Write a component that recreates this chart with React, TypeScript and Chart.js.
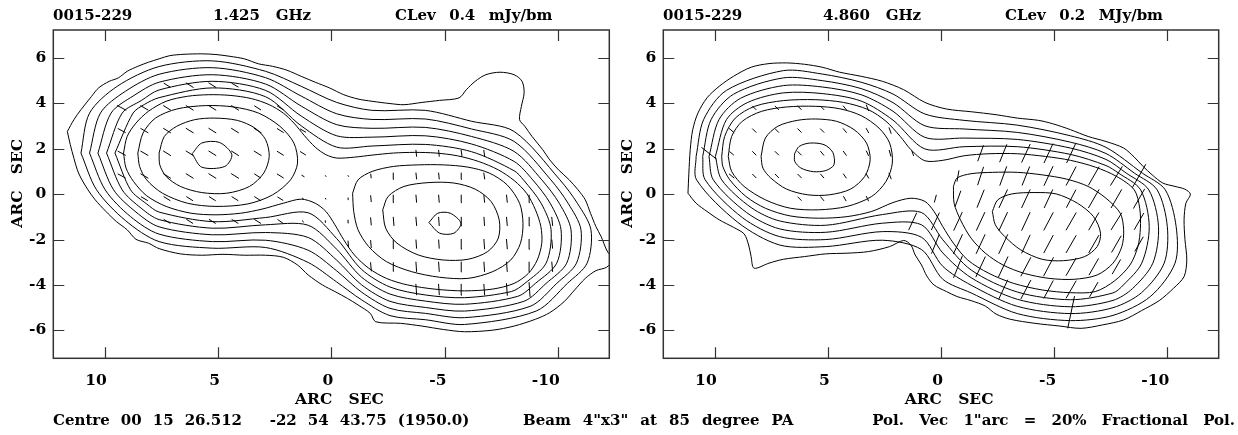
import React, { useEffect, useRef } from "react";
import { Chart, registerables } from "chart.js";

Chart.register(...registerables);

type Pt = [number, number];
// x (arcsec), y (arcsec), fractional polarisation (%), position angle (deg)
type Vec = [number, number, number, number];

const X_TICKS = [10, 5, 0, -5, -10];
const Y_TICKS = [6, 4, 2, 0, -2, -4, -6];
const X_HALF = 12.27;
const Y_HALF = 7.23;
const PCT_PER_ARCSEC = 20;

// ---------------- 1.425 GHz contours ----------------
const L_C1: Pt[] = [[11.65,2.76],[11.36,3.28],[11.05,3.72],[10.58,4.31],[10.27,4.68],[9.80,4.97],[9.40,5.12],[9.01,5.41],[8.54,5.63],[8.07,5.81],[7.60,5.96],[7.13,6.10],[6.50,6.16],[5.72,6.18],[5.09,6.15],[4.47,6.07],[3.84,5.96],[3.21,5.74],[2.59,5.63],[1.96,5.46],[1.33,5.19],[0.71,4.93],[0.08,4.68],[-0.55,4.38],[-1.18,4.19],[-1.80,4.09],[-2.59,3.99],[-3.21,3.94],[-4.00,4.04],[-4.78,4.13],[-5.64,4.24],[-5.96,4.60],[-6.35,4.97],[-6.82,5.26],[-7.45,5.37],[-8.07,5.26],[-8.42,4.97],[-8.51,4.46],[-8.39,3.87],[-8.31,3.28],[-8.54,2.99],[-8.86,2.54],[-9.33,1.96],[-9.64,1.51],[-10.03,1.07],[-10.50,0.63],[-10.89,0.19],[-11.21,-0.25],[-11.44,-0.84],[-11.68,-1.43],[-11.91,-1.87],[-12.15,-2.46],[-12.40,-2.90],[-12.15,-3.22],[-11.68,-3.37],[-11.21,-3.71],[-10.74,-4.22],[-10.27,-4.74],[-9.64,-5.22],[-9.01,-5.51],[-8.07,-5.81],[-7.13,-5.99],[-5.88,-6.06],[-4.94,-5.96],[-4.00,-5.81],[-3.06,-5.69],[-1.96,-5.62],[-1.72,-5.25],[-1.18,-4.88],[-0.71,-4.59],[-0.16,-4.29],[0.39,-4.00],[1.02,-3.56],[1.49,-3.12],[2.12,-2.78],[2.90,-2.69],[3.84,-2.69],[4.78,-2.65],[5.72,-2.69],[6.66,-2.63],[7.60,-2.40],[8.07,-2.16],[8.62,-1.99],[9.01,-1.57],[9.48,-1.21],[9.95,-0.76],[10.42,-0.25],[10.74,0.19],[11.05,0.71],[11.21,1.07],[11.36,1.58],[11.52,2.18],[11.65,2.76]];
const L_C2: Pt[] = [[11.05,1.81],[10.67,3.57],[9.45,4.75],[7.60,5.62],[5.25,5.87],[2.90,5.41],[1.33,4.75],[-0.24,4.04],[-1.80,3.69],[-4.15,3.69],[-6.19,3.21],[-8.07,2.76],[-10.09,0.63],[-10.86,-0.40],[-11.46,-1.57],[-11.29,-3.04],[-10.42,-3.93],[-9.04,-5.15],[-5.88,-5.74],[-4.15,-5.53],[-2.59,-5.35],[-1.33,-4.65],[-0.24,-3.87],[1.02,-3.01],[2.90,-2.35],[5.25,-2.38],[7.60,-2.09],[9.09,-1.16],[10.36,0.19],[11.05,1.81]];
const L_C3: Pt[] = [[10.67,1.81],[10.19,3.57],[9.09,4.53],[7.60,5.28],[5.25,5.57],[2.90,5.13],[1.33,4.32],[-0.24,3.54],[-1.80,3.29],[-4.15,3.31],[-6.19,2.87],[-8.07,2.32],[-9.69,0.63],[-10.45,-0.40],[-11.02,-1.57],[-10.82,-3.04],[-9.95,-3.93],[-8.78,-4.94],[-5.88,-5.44],[-4.15,-5.25],[-2.59,-5.03],[-1.33,-4.31],[-0.24,-3.38],[1.02,-2.47],[2.90,-2.03],[5.25,-2.09],[7.60,-1.76],[8.86,-0.99],[9.98,0.19],[10.67,1.81]];
const L_C4: Pt[] = [[10.30,1.81],[9.72,3.57],[8.75,4.32],[7.60,4.93],[5.25,5.26],[2.90,4.85],[1.33,3.88],[-0.24,3.06],[-1.80,2.90],[-4.15,2.94],[-6.19,2.54],[-8.07,1.88],[-9.29,0.63],[-10.06,-0.40],[-10.58,-1.57],[-10.39,-3.04],[-9.48,-3.93],[-8.50,-4.72],[-5.88,-5.15],[-4.15,-4.99],[-2.59,-4.72],[-1.33,-3.99],[-0.24,-2.91],[1.02,-1.91],[2.90,-1.69],[5.25,-1.79],[7.60,-1.44],[8.62,-0.79],[9.61,0.19],[10.30,1.81]];
const L_C5: Pt[] = [[9.92,1.81],[9.23,3.57],[8.39,4.12],[7.60,4.59],[5.25,4.97],[2.90,4.57],[1.33,3.44],[-0.24,2.57],[-1.80,2.51],[-4.15,2.57],[-6.19,2.21],[-8.07,1.44],[-8.89,0.63],[-9.66,-0.40],[-10.14,-1.57],[-9.95,-3.04],[-9.01,-3.93],[-8.23,-4.50],[-5.88,-4.85],[-4.15,-4.71],[-2.59,-4.40],[-1.33,-3.65],[-0.24,-2.43],[1.02,-1.37],[2.90,-1.35],[5.25,-1.50],[7.60,-1.12],[8.39,-0.62],[9.23,0.19],[9.92,1.81]];
const L_C6: Pt[] = [[9.55,1.81],[8.75,3.57],[8.25,3.95],[7.60,4.25],[5.25,4.68],[2.90,4.29],[1.33,3.01],[-0.24,2.07],[-1.80,2.12],[-4.15,2.19],[-6.19,1.87],[-8.07,1.03],[-8.48,0.63],[-9.26,-0.40],[-9.70,-1.57],[-9.48,-3.04],[-8.54,-3.93],[-7.95,-4.29],[-5.88,-4.56],[-4.15,-4.44],[-2.59,-4.09],[-1.33,-3.31],[-0.24,-1.96],[1.02,-0.82],[2.90,-1.03],[5.25,-1.21],[7.60,-0.79],[8.15,-0.43],[8.86,0.19],[9.55,1.81]];
const L_C7: Pt[] = [[9.17,1.81],[9.01,2.54],[8.62,3.13],[8.07,3.65],[7.29,4.09],[6.35,4.31],[5.41,4.38],[4.47,4.35],[3.53,4.21],[2.74,3.94],[2.12,3.57],[1.65,3.13],[1.18,2.57],[0.71,2.07],[0.24,1.74],[-0.24,1.59],[-1.02,1.63],[-1.80,1.72],[-2.74,1.81],[-3.68,1.84],[-4.62,1.81],[-5.56,1.69],[-6.50,1.44],[-7.37,1.07],[-8.07,0.60],[-8.62,0.04],[-9.01,-0.69],[-9.25,-1.43],[-9.29,-2.16],[-9.09,-2.90],[-8.70,-3.49],[-8.07,-3.93],[-7.13,-4.18],[-5.88,-4.26],[-4.62,-4.19],[-3.37,-4.00],[-2.43,-3.71],[-1.65,-3.26],[-1.02,-2.68],[-0.55,-2.01],[-0.16,-1.35],[0.24,-0.76],[0.71,-0.40],[1.33,-0.22],[2.12,-0.40],[3.06,-0.66],[4.00,-0.84],[5.09,-0.91],[6.19,-0.84],[7.29,-0.54],[8.15,-0.07],[8.73,0.56],[9.06,1.15],[9.17,1.81]];
const L_EAST_B: Pt[] = [[8.54,1.81],[8.31,2.69],[7.76,3.35],[6.82,3.75],[5.56,3.90],[4.31,3.84],[3.21,3.57],[2.27,2.99],[1.65,2.25],[1.49,1.37],[1.80,0.63],[2.59,-0.03],[3.68,-0.43],[5.09,-0.54],[6.35,-0.40],[7.45,0.04],[8.15,0.63],[8.46,1.22],[8.54,1.81]];
const L_EAST_A: Pt[] = [[7.60,1.81],[7.37,2.54],[6.82,2.99],[6.03,3.28],[5.17,3.35],[4.15,3.25],[3.37,2.91],[2.90,2.40],[2.74,1.66],[2.98,0.93],[3.61,0.34],[4.62,0.04],[5.72,0.07],[6.66,0.34],[7.29,0.78],[7.57,1.29],[7.60,1.81]];
const L_EAST_PEAK: Pt[] = [[6.14,1.78],[5.72,2.25],[4.94,2.28],[4.39,1.74],[4.70,1.22],[5.72,1.19],[6.14,1.78]];
const L_WEST_B: Pt[] = [[-0.94,0.04],[-1.18,0.63],[-1.80,1.00],[-2.74,1.22],[-3.84,1.29],[-4.94,1.29],[-6.03,1.19],[-6.97,0.93],[-7.76,0.41],[-8.31,-0.40],[-8.46,-1.28],[-8.35,-2.16],[-7.92,-2.90],[-7.13,-3.41],[-6.03,-3.71],[-4.78,-3.66],[-3.53,-3.41],[-2.43,-2.97],[-1.65,-2.31],[-1.18,-1.57],[-0.99,-0.76],[-0.94,0.04]];
const L_WEST_A: Pt[] = [[-2.27,-0.69],[-2.51,-0.10],[-3.21,0.34],[-4.31,0.51],[-5.41,0.49],[-6.35,0.22],[-7.05,-0.32],[-7.41,-1.13],[-7.37,-1.94],[-6.90,-2.53],[-6.03,-2.87],[-4.94,-2.90],[-3.84,-2.68],[-2.90,-2.16],[-2.40,-1.50],[-2.27,-0.69]];
const L_WEST_PEAK: Pt[] = [[-4.31,-1.25],[-4.70,-0.84],[-5.25,-0.84],[-5.72,-1.28],[-5.41,-1.72],[-4.78,-1.72],[-4.31,-1.25]];

const LEFT_VECS: Vec[] = [
  [7.25,4.8,7,58],[6.25,4.8,8,58],[5.25,4.8,8,58],[4.25,4.8,7,60],
  [9.25,3.8,9,62],[8.25,3.8,8,60],[7.25,3.8,8,58],[6.25,3.8,8,58],[5.25,3.8,8,58],[4.25,3.8,8,58],[3.25,3.8,7,58],[2.25,3.8,7,58],
  [9.25,2.8,8,62],[8.25,2.8,8,60],[7.25,2.8,8,58],[6.25,2.8,8,58],[5.25,2.8,8,58],[4.25,2.8,8,58],[3.25,2.8,8,58],[2.25,2.8,7,58],[1.25,2.8,6,60],
  [9.25,1.8,8,62],[8.25,1.8,8,60],[7.25,1.8,8,58],[6.25,1.8,8,58],[5.25,1.8,8,58],[4.25,1.8,8,58],[3.25,1.8,8,58],[2.25,1.8,7,58],[1.25,1.8,6,58],
  [-3.75,1.8,6,6],[-4.75,1.8,6,6],[-5.75,1.8,6,8],[-6.75,1.8,6,8],
  [9.25,0.8,8,62],[8.25,0.8,8,60],[7.25,0.8,8,58],[6.25,0.8,8,58],[5.25,0.8,8,58],[4.25,0.8,8,58],[3.25,0.8,7,58],[2.25,0.8,7,58],
  [1.25,0.8,3,60],[0.25,0.8,1.5,60],[-0.75,0.8,1.5,30],
  [-1.75,0.8,4,6],[-2.75,0.8,6,6],[-3.75,0.8,6,6],[-4.75,0.8,6,6],[-5.75,0.8,6,6],[-6.75,0.8,6,8],
  [8.25,-0.2,7,60],[7.25,-0.2,7,58],[6.25,-0.2,7,58],[5.25,-0.2,7,58],[4.25,-0.2,7,58],[3.25,-0.2,7,58],[2.25,-0.2,6,58],
  [1.25,-0.2,2,50],[0.25,-0.2,1.5,30],[-0.75,-0.2,2,10],
  [-1.75,-0.2,6,5],[-2.75,-0.2,7,5],[-3.75,-0.2,7,5],[-4.75,-0.2,7,5],[-5.75,-0.2,7,5],[-6.75,-0.2,7,6],[-7.75,-0.2,7,6],[-8.75,-0.2,7,6],
  [7.25,-1.2,7,58],[6.25,-1.2,7,58],[5.25,-1.2,7,58],[4.25,-1.2,7,58],[3.25,-1.2,7,58],[2.25,-1.2,6,55],
  [1.25,-1.2,2,30],[0.25,-1.2,2,15],[-0.75,-1.2,3,8],
  [-1.75,-1.2,7,5],[-2.75,-1.2,8,5],[-3.75,-1.2,8,5],[-4.75,-1.2,8,4],[-5.75,-1.2,8,4],[-6.75,-1.2,8,4],[-7.75,-1.2,8,5],[-8.75,-1.2,8,5],[-9.75,-1.2,8,6],
  [-0.75,-2.2,6,5],[-1.75,-2.2,7,5],[-2.75,-2.2,8,4],[-3.75,-2.2,8,4],[-4.75,-2.2,8,4],[-5.75,-2.2,9,4],[-6.75,-2.2,9,4],[-7.75,-2.2,9,5],[-8.75,-2.2,9,5],[-9.75,-2.2,8,5],
  [-1.75,-3.2,8,5],[-2.75,-3.2,8,4],[-3.75,-3.2,9,4],[-4.75,-3.2,9,4],[-5.75,-3.2,9,4],[-6.75,-3.2,9,4],[-7.75,-3.2,9,4],[-8.75,-3.2,9,5],[-9.75,-3.2,9,5],
  [-3.75,-4.2,10,4],[-4.75,-4.2,10,4],[-5.75,-4.2,10,4],[-6.75,-4.2,10,4],[-7.75,-4.2,11,4],[-8.75,-4.2,13,4],
];

// ---------------- 4.860 GHz contours ----------------
const R_C1: Pt[] = [[11.18,0.04],[11.14,0.93],[11.08,1.96],[10.97,2.84],[10.74,3.57],[10.34,4.24],[9.80,4.75],[9.17,5.19],[8.39,5.59],[7.60,5.75],[6.82,5.78],[6.03,5.72],[5.25,5.59],[4.47,5.37],[3.53,5.19],[2.59,4.97],[1.65,4.60],[0.71,4.04],[-0.24,3.75],[-1.33,3.63],[-2.43,3.50],[-3.37,3.35],[-4.31,3.25],[-4.94,3.10],[-5.72,2.84],[-6.50,2.54],[-7.29,2.32],[-8.07,2.03],[-8.54,1.63],[-8.93,1.22],[-9.33,0.85],[-9.80,0.49],[-10.34,0.34],[-10.77,0.22],[-11.02,0.00],[-10.82,-0.40],[-10.74,-1.13],[-10.78,-2.01],[-10.86,-2.90],[-10.74,-3.63],[-10.27,-4.15],[-9.64,-4.69],[-8.86,-5.13],[-8.07,-5.54],[-7.13,-5.76],[-6.19,-5.91],[-5.25,-5.81],[-4.15,-5.69],[-3.06,-5.51],[-2.43,-5.28],[-1.96,-4.93],[-1.33,-4.69],[-0.71,-4.51],[-0.24,-4.29],[0.31,-4.00],[0.63,-3.60],[0.86,-3.12],[1.14,-2.68],[1.33,-2.24],[1.65,-2.04],[2.27,-2.31],[3.21,-2.53],[4.15,-2.60],[5.09,-2.63],[6.03,-2.75],[6.97,-2.87],[7.60,-3.04],[8.26,-3.26],[8.39,-2.75],[8.50,-2.24],[8.70,-1.75],[9.17,-1.46],[9.80,-1.13],[10.34,-0.76],[10.82,-0.40],[11.18,0.04]];
const R_C2: Pt[] = [[10.82,1.66],[10.49,3.28],[9.48,4.57],[6.97,5.44],[5.25,5.29],[3.53,4.93],[2.12,4.41],[0.71,3.53],[-1.02,3.25],[-3.37,3.04],[-5.72,2.57],[-7.29,2.06],[-8.89,0.93],[-9.91,0.19],[-10.39,-1.43],[-10.34,-3.04],[-9.25,-4.51],[-7.60,-5.34],[-5.72,-5.57],[-3.37,-5.26],[-1.33,-4.35],[-0.08,-3.75],[0.86,-2.44],[2.59,-2.03],[5.09,-2.31],[7.13,-2.24],[8.98,-1.24],[10.80,0.63],[10.82,1.66]];
const R_C3: Pt[] = [[10.53,1.66],[10.16,3.28],[9.17,4.40],[6.97,5.12],[5.25,5.00],[3.53,4.65],[2.12,4.03],[0.71,3.01],[-1.02,2.87],[-3.37,2.72],[-5.72,2.29],[-7.29,1.79],[-8.54,0.93],[-9.55,0.19],[-10.00,-1.43],[-9.86,-3.04],[-8.86,-4.34],[-7.60,-5.00],[-5.72,-5.26],[-3.37,-4.94],[-1.33,-4.01],[-0.08,-3.18],[0.86,-1.90],[2.59,-1.65],[5.09,-2.00],[7.13,-1.87],[8.78,-1.03],[10.42,0.63],[10.53,1.66]];
const R_C4: Pt[] = [[10.25,1.66],[9.81,3.28],[8.86,4.22],[6.97,4.78],[5.25,4.72],[3.53,4.38],[2.12,3.65],[0.71,2.50],[-1.02,2.47],[-3.37,2.41],[-5.72,2.03],[-7.29,1.53],[-8.18,0.93],[-9.18,0.19],[-9.61,-1.43],[-9.36,-3.04],[-8.46,-4.16],[-7.60,-4.68],[-5.72,-4.96],[-3.37,-4.63],[-1.33,-3.68],[-0.08,-2.59],[0.86,-1.35],[2.59,-1.28],[5.09,-1.68],[7.13,-1.53],[8.59,-0.81],[10.06,0.63],[10.25,1.66]];
const R_C5: Pt[] = [[9.97,1.66],[9.48,3.28],[8.54,4.04],[6.97,4.46],[5.25,4.43],[3.53,4.10],[2.12,3.26],[0.71,1.99],[-1.02,2.09],[-3.37,2.09],[-5.72,1.75],[-7.29,1.26],[-7.84,0.93],[-8.82,0.19],[-9.20,-1.43],[-8.87,-3.04],[-8.07,-3.99],[-7.60,-4.35],[-5.72,-4.65],[-3.37,-4.31],[-1.33,-3.34],[-0.08,-2.01],[0.86,-0.81],[2.59,-0.90],[5.09,-1.37],[7.13,-1.18],[8.39,-0.59],[9.69,0.63],[9.97,1.66]];
const R_C6: Pt[] = [[9.69,1.66],[9.56,2.54],[9.09,3.35],[8.23,3.87],[6.97,4.12],[5.56,4.16],[4.31,4.04],[3.21,3.72],[2.43,3.21],[1.80,2.54],[1.33,1.96],[0.71,1.47],[-0.08,1.49],[-1.02,1.69],[-2.12,1.78],[-3.37,1.78],[-4.62,1.66],[-5.72,1.49],[-6.82,1.19],[-7.76,0.78],[-8.54,0.19],[-8.78,-0.62],[-8.81,-1.50],[-8.70,-2.31],[-8.35,-3.12],[-7.68,-3.81],[-6.82,-4.29],[-5.72,-4.34],[-4.47,-4.22],[-3.21,-3.93],[-2.12,-3.49],[-1.18,-2.90],[-0.55,-2.16],[-0.08,-1.43],[0.31,-0.76],[0.71,-0.32],[1.33,-0.18],[2.12,-0.37],[3.06,-0.76],[4.15,-0.99],[5.41,-1.06],[6.66,-0.96],[7.76,-0.62],[8.62,-0.10],[9.33,0.63],[9.64,1.22],[9.69,1.66]];
const R_EAST_B: Pt[] = [[9.40,1.66],[9.25,2.54],[8.78,3.21],[7.92,3.65],[6.82,3.84],[5.56,3.87],[4.47,3.76],[3.53,3.46],[2.74,2.91],[2.27,2.25],[2.15,1.37],[2.43,0.56],[3.06,-0.10],[4.15,-0.54],[5.41,-0.69],[6.66,-0.62],[7.76,-0.25],[8.70,0.34],[9.25,1.00],[9.40,1.66]];
const R_EAST_A: Pt[] = [[7.95,1.66],[7.76,2.47],[7.21,2.99],[6.35,3.25],[5.53,3.31],[4.62,3.21],[3.84,2.84],[3.29,2.25],[3.13,1.51],[3.37,0.78],[4.00,0.22],[4.94,-0.03],[5.88,-0.03],[6.82,0.22],[7.52,0.71],[7.87,1.15],[7.95,1.66]];
const R_EAST_PEAK: Pt[] = [[6.47,1.78],[6.27,2.10],[5.80,2.25],[5.17,2.18],[4.78,1.84],[4.73,1.29],[5.09,1.04],[5.64,0.99],[6.19,1.15],[6.46,1.44],[6.47,1.78]];
const R_WEST_B: Pt[] = [[-0.55,0.34],[-0.71,0.71],[-1.33,0.90],[-2.27,0.96],[-3.37,0.96],[-4.47,0.85],[-5.56,0.66],[-6.50,0.34],[-7.29,-0.18],[-7.92,-0.84],[-8.07,-1.57],[-7.99,-2.31],[-7.60,-3.04],[-6.90,-3.56],[-5.88,-3.75],[-4.78,-3.71],[-3.68,-3.49],[-2.74,-3.12],[-1.96,-2.60],[-1.33,-1.94],[-0.86,-1.13],[-0.58,-0.40],[-0.55,0.34]];
const R_WEST_A: Pt[] = [[-2.27,-0.76],[-2.51,-0.25],[-3.13,0.01],[-4.15,0.07],[-5.09,0.01],[-6.03,-0.40],[-6.74,-0.99],[-7.05,-1.72],[-6.90,-2.31],[-6.35,-2.75],[-5.41,-2.93],[-4.47,-2.87],[-3.53,-2.46],[-2.82,-1.87],[-2.40,-1.35],[-2.27,-0.76]];

const RIGHT_VECS: Vec[] = [
  [8.25,3.8,5,45],[7.25,3.8,5,45],[6.25,3.8,5,48],[5.25,3.8,5,45],[4.25,3.8,5,40],[3.25,3.8,6,20],
  [9.25,2.8,6,50],[8.25,2.8,5,45],[7.25,2.8,5,45],[6.25,2.8,5,45],[5.25,2.8,5,45],[4.25,2.8,5,40],[3.25,2.8,5,30],[2.25,2.8,6,20],
  [10.25,1.8,17,52],[9.25,1.8,5,50],[8.25,1.8,5,45],[7.25,1.8,5,45],[6.25,1.8,5,45],[5.25,1.8,5,40],[4.25,1.8,5,35],[3.25,1.8,5,25],[2.25,1.8,6,15],[1.25,1.8,5,20],
  [9.25,0.8,6,50],[8.25,0.8,5,45],[7.25,0.8,5,45],[6.25,0.8,5,45],[5.25,0.8,5,40],[4.25,0.8,5,35],[3.25,0.8,5,30],[2.25,0.8,6,20],
  [6.25,-0.2,5,45],[5.25,-0.2,5,40],[4.25,-0.2,5,30],[3.25,-0.2,5,25],
  [-1.75,1.8,15,-20],[-2.75,1.8,17,-22],[-3.75,1.8,18,-25],[-4.75,1.8,19,-25],[-5.75,1.8,19,-25],
  [-0.75,0.8,10,-10],[-1.75,0.8,17,-18],[-2.75,0.8,18,-20],[-3.75,0.8,18,-22],[-4.75,0.8,19,-25],[-5.75,0.8,19,-28],[-6.75,0.8,19,-30],[-7.75,0.8,20,-32],[-8.75,0.8,24,-30],
  [0.25,-0.2,7,-15],[-0.75,-0.2,15,-20],[-1.75,-0.2,17,-22],[-2.75,-0.2,18,-25],[-3.75,-0.2,18,-25],[-4.75,-0.2,18,-25],[-5.75,-0.2,18,-28],[-6.75,-0.2,19,-30],[-7.75,-0.2,19,-30],[-8.75,-0.2,20,-30],
  [1.25,-1.2,17,-25],[0.25,-1.2,17,-25],[-0.75,-1.2,18,-25],[-1.75,-1.2,18,-25],[-2.75,-1.2,18,-25],[-3.75,-1.2,18,-25],[-4.75,-1.2,18,-28],[-5.75,-1.2,18,-30],[-6.75,-1.2,18,-30],[-7.75,-1.2,18,-32],[-8.75,-1.2,17,-30],
  [0.25,-2.2,18,-22],[-0.75,-2.2,19,-25],[-1.75,-2.2,19,-25],[-2.75,-2.2,19,-25],[-3.75,-2.2,18,-25],[-4.75,-2.2,18,-28],[-5.75,-2.2,18,-30],[-6.75,-2.2,18,-30],[-7.75,-2.2,17,-30],[-8.75,-2.2,15,-30],
  [-0.75,-3.2,21,-22],[-1.75,-3.2,20,-25],[-2.75,-3.2,20,-25],[-3.75,-3.2,19,-28],[-4.75,-3.2,19,-28],[-5.75,-3.2,18,-30],[-6.75,-3.2,17,-30],[-7.75,-3.2,15,-30],
  [-2.75,-4.2,19,-25],[-3.75,-4.2,19,-28],[-4.75,-4.2,18,-28],[-5.75,-4.2,18,-30],[-6.75,-4.2,15,-30],
  [-5.75,-5.2,29,-12],
];

const LEFT_CONTOURS: Pt[][] = [L_C1, L_C2, L_C3, L_C4, L_C5, L_C6, L_C7, L_EAST_B, L_EAST_A, L_EAST_PEAK, L_WEST_B, L_WEST_A, L_WEST_PEAK];
const RIGHT_CONTOURS: Pt[][] = [R_C1, R_C2, R_C3, R_C4, R_C5, R_C6, R_EAST_B, R_EAST_A, R_EAST_PEAK, R_WEST_B, R_WEST_A];

const FONT = "'DejaVu Serif', 'Liberation Serif', serif";
const FS = 15;

function vectorData(vecs: Vec[]) {
  const out: { x: number; y: number | null }[] = [];
  for (const [x, y, p, pa] of vecs) {
    const half = p / PCT_PER_ARCSEC / 2;
    const r = (pa * Math.PI) / 180;
    const dx = half * Math.sin(r);
    const dy = half * Math.cos(r);
    out.push({ x: x - dx, y: y - dy }, { x: x + dx, y: y + dy }, { x, y: null });
  }
  return out;
}

const framePlugin = {
  id: "pgframe",
  afterDatasetsDraw(chart: any) {
    const { ctx, chartArea: a, scales } = chart;
    ctx.save();
    ctx.strokeStyle = "#333";
    ctx.lineWidth = 1.5;
    ctx.strokeRect(a.left, a.top, a.right - a.left, a.bottom - a.top);
    const tl = 11;
    ctx.beginPath();
    for (const v of X_TICKS) {
      const px = Math.round(scales.x.getPixelForValue(v)) + 0.5;
      ctx.moveTo(px, a.bottom);
      ctx.lineTo(px, a.bottom - tl);
      ctx.moveTo(px, a.top);
      ctx.lineTo(px, a.top + tl);
    }
    for (const v of Y_TICKS) {
      const py = Math.round(scales.y.getPixelForValue(v)) + 0.5;
      ctx.moveTo(a.left, py);
      ctx.lineTo(a.left + tl, py);
      ctx.moveTo(a.right, py);
      ctx.lineTo(a.right - tl, py);
    }
    ctx.lineWidth = 1.2;
    ctx.stroke();
    ctx.restore();
  },
};

function makeChart(canvas: HTMLCanvasElement, contours: Pt[][], vecs: Vec[], padRight: number) {
  const font = { family: FONT, size: 15.5, weight: "bold" as const };
  return new Chart(canvas, {
    type: "scatter",
    data: {
      datasets: [
        ...contours.map((c) => ({
          data: c.map(([x, y]) => ({ x, y })),
          showLine: true,
          borderColor: "#000",
          borderWidth: 1,
          pointRadius: 0,
          tension: 0.3,
        })),
        {
          data: vectorData(vecs),
          showLine: true,
          spanGaps: false,
          borderColor: "#000",
          borderWidth: 1,
          pointRadius: 0,
          tension: 0,
        },
      ],
    },
    options: {
      animation: false,
      responsive: false,
      devicePixelRatio: 1,
      events: [],
      layout: { padding: { left: 0, top: 30, right: padRight, bottom: 26 } },
      plugins: { legend: { display: false }, tooltip: { enabled: false } },
      scales: {
        x: {
          type: "linear",
          reverse: true,
          min: -X_HALF,
          max: X_HALF,
          afterBuildTicks: (s: any) => {
            s.ticks = X_TICKS.map((v) => ({ value: v }));
          },
          afterFit: (s: any) => {
            s.height = 50.7;
          },
          grid: { display: false, drawTicks: false },
          border: { display: false },
          ticks: { color: "#000", font, padding: 13, maxRotation: 0, autoSkip: false, align: "end", labelOffset: 2, callback: (v: any) => String(v) },
          title: { display: true, text: "   ARC   SEC", color: "#000", font, padding: 0 },
        },
        y: {
          type: "linear",
          min: -Y_HALF,
          max: Y_HALF,
          afterBuildTicks: (s: any) => {
            s.ticks = Y_TICKS.map((v) => ({ value: v }));
          },
          afterFit: (s: any) => {
            s.width = 53.3;
          },
          grid: { display: false, drawTicks: false },
          border: { display: false },
          ticks: { color: "#000", font, padding: 7, autoSkip: false, callback: (v: any) => String(v) },
          title: { display: true, text: "    ARC   SEC", color: "#000", font, padding: { top: 9, bottom: 0 } },
        },
      },
    } as any,
    plugins: [framePlugin],
  });
}

const textStyle = (left: number, top: number, ws = 0): React.CSSProperties => ({
  position: "absolute",
  left,
  top,
  font: `bold ${FS}px ${FONT}`,
  lineHeight: "18px",
  whiteSpace: "pre",
  wordSpacing: `${ws}px`,
  color: "#000",
});

export default function App() {
  const leftRef = useRef<HTMLCanvasElement>(null);
  const rightRef = useRef<HTMLCanvasElement>(null);

  useEffect(() => {
    const a = makeChart(leftRef.current!, LEFT_CONTOURS, LEFT_VECS, 10.7);
    const b = makeChart(rightRef.current!, RIGHT_CONTOURS, RIGHT_VECS, 19.3);
    return () => {
      a.destroy();
      b.destroy();
    };
  }, []);

  return (
    <div style={{ position: "absolute", left: 0, top: 0, width: 1238, height: 435, background: "#fff", overflow: "hidden" }}>
      <canvas ref={leftRef} width={620} height={435} style={{ position: "absolute", left: 0, top: 0 }} />
      <canvas ref={rightRef} width={628} height={435} style={{ position: "absolute", left: 610, top: 0 }} />
      <div style={textStyle(53, 6)}>0015-229</div>
      <div style={textStyle(213, 6)}>{"1.425   GHz"}</div>
      <div style={textStyle(395, 6, 1.5)}>{"CLev  0.4  mJy/bm"}</div>
      <div style={textStyle(663, 6)}>0015-229</div>
      <div style={textStyle(823, 6)}>{"4.860   GHz"}</div>
      <div style={textStyle(1005, 6, 1.5)}>{"CLev  0.2  MJy/bm"}</div>
      <div style={textStyle(53, 411, 0.3)}>{"Centre  00  15  26.512     -22  54  43.75  (1950.0)"}</div>
      <div style={textStyle(523, 411, 0.8)}>{"Beam  4\"x3\"  at  85  degree  PA"}</div>
      <div style={{ ...textStyle(0, 411, 2.4), left: undefined, right: 3 }}>{"Pol.  Vec  1\"arc  =  20%  Fractional  Pol."}</div>
    </div>
  );
}
